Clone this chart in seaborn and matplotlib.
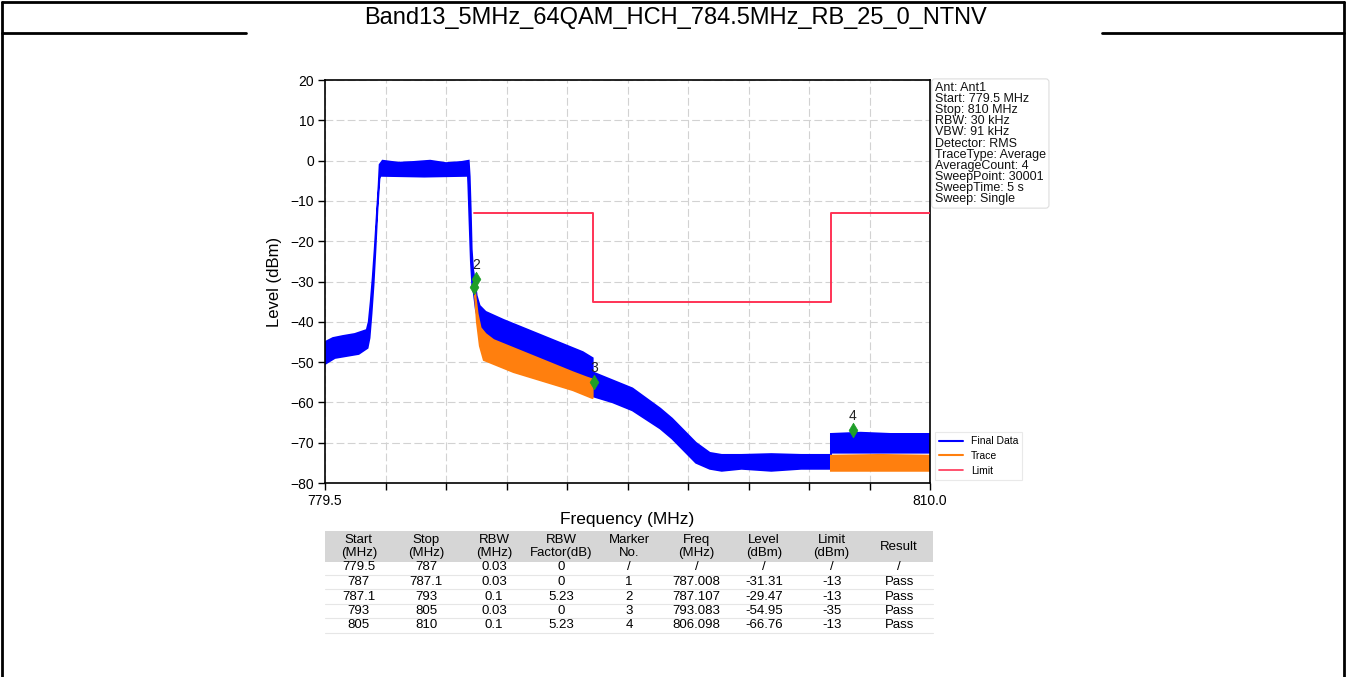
import numpy as np
import matplotlib
matplotlib.use("Agg")
import matplotlib.pyplot as plt
from matplotlib.lines import Line2D
from matplotlib.patches import Rectangle
import seaborn as sns

# ---------------------------------------------------------------- data
title = "Band13_5MHz_64QAM_HCH_784.5MHz_RB_25_0_NTNV"
f_start, f_stop = 779.5, 810.0
level_min, level_max = -80, 20

# Final Data sweep: upper / lower edges of the noisy band (MHz, dBm)
final_upper_f = [779.5, 779.9, 780.4, 781.0, 781.6, 781.7, 781.8, 781.9, 782.0,
                 782.1, 782.2, 782.25, 782.4, 783.2, 784.0, 784.8, 785.6, 786.4,
                 786.75, 786.8, 786.85, 786.9, 786.97, 787.05, 787.15, 787.3,
                 787.6, 788.5, 789.5, 790.5, 791.5, 792.5, 793.0, 793.0, 794.0,
                 795.0, 796.4, 797.0, 797.6, 798.2, 798.9, 799.5, 800.5, 802.0,
                 803.5, 805.0, 805.0, 806.5, 808.0, 810.0]
final_upper_db = [-45.0, -44.0, -43.5, -43.0, -42.0, -40.0, -35.0, -29.0, -22.0,
                  -14.0, -6.0, -1.0, 0.0, -0.5, -0.3, 0.0, -0.6, -0.3,
                  0.0, -4.0, -12.0, -22.0, -27.0, -29.5, -33.5, -36.0,
                  -37.5, -39.5, -41.5, -43.5, -45.5, -47.5, -49.0, -52.5, -54.5,
                  -56.5, -61.5, -64.0, -67.0, -70.0, -72.5, -73.0, -73.0, -72.8,
                  -73.0, -73.0, -67.8, -67.5, -67.8, -67.8]
final_lower_f = [779.5, 780.0, 780.6, 781.2, 781.65, 781.75, 781.85, 781.95,
                 782.05, 782.15, 782.25, 782.3, 784.5, 786.7, 786.72, 786.78,
                 786.85, 786.92, 787.0, 787.1, 787.3, 787.6, 788.5, 790.0,
                 791.5, 793.0, 793.0, 794.0, 795.0, 796.4, 797.0, 797.6, 798.2,
                 798.9, 799.5, 800.5, 802.0, 803.5, 805.0, 805.0, 807.5, 810.0]
final_lower_db = [-50.5, -49.0, -48.5, -48.0, -46.5, -44.0, -38.0, -31.0,
                  -22.0, -12.0, -4.5, -3.8, -4.0, -3.8, -6.0, -15.0,
                  -25.0, -31.0, -33.0, -37.0, -41.0, -44.0, -46.5, -49.0,
                  -52.0, -55.0, -58.5, -60.0, -62.0, -66.5, -69.0, -72.0, -75.0,
                  -76.5, -77.0, -76.5, -77.0, -76.5, -76.5, -72.5, -72.5, -72.5]

# Trace sweep where an RBW factor applies (787.1-793 and 805-810 MHz)
trace_a_upper_f = [787.05, 787.1, 787.2, 787.35, 787.6, 788.0, 789.0, 790.0,
                   791.0, 792.0, 792.7, 793.0]
trace_a_upper_db = [-31.0, -34.0, -38.0, -41.5, -43.0, -44.5, -46.5, -48.5,
                    -50.5, -52.5, -53.8, -54.3]
trace_a_lower_f = [787.05, 787.15, 787.3, 787.5, 788.0, 789.0, 790.0, 791.0,
                   792.0, 793.0]
trace_a_lower_db = [-33.0, -40.0, -46.0, -49.5, -50.5, -52.5, -54.0, -55.5,
                    -57.0, -59.0]
trace_b_upper_f = [805.0, 807.5, 810.0]
trace_b_upper_db = [-73.2, -73.0, -73.2]
trace_b_lower_f = [805.0, 807.5, 810.0]
trace_b_lower_db = [-77.0, -77.0, -77.0]

# Result table
start_mhz = ["779.5", "787", "787.1", "793", "805"]
stop_mhz = ["787", "787.1", "793", "805", "810"]
rbw_mhz = ["0.03", "0.03", "0.1", "0.03", "0.1"]
rbw_factor_db = ["0", "0", "5.23", "0", "5.23"]
marker_no = ["/", "1", "2", "3", "4"]
marker_freq = ["/", "787.008", "787.107", "793.083", "806.098"]
marker_level = ["/", "-31.31", "-29.47", "-54.95", "-66.76"]
limit_dbm = ["/", "-13", "-13", "-35", "-13"]
result = ["/", "Pass", "Pass", "Pass", "Pass"]

table_headers = ["Start\n(MHz)", "Stop\n(MHz)", "RBW\n(MHz)", "RBW\nFactor(dB)",
                 "Marker\nNo.", "Freq\n(MHz)", "Level\n(dBm)", "Limit\n(dBm)",
                 "Result"]

info_lines = ["Ant: Ant1", "Start: 779.5 MHz", "Stop: 810 MHz", "RBW: 30 kHz",
              "VBW: 91 kHz", "Detector: RMS", "TraceType: Average",
              "AverageCount: 4", "SweepPoint: 30001", "SweepTime: 5 s",
              "Sweep: Single"]

# ---------------------------------------------------------------- style
sns.set_theme(style="ticks")
plt.rcParams["font.family"] = ["Liberation Sans", "DejaVu Sans"]
plt.rcParams["axes.unicode_minus"] = True
for key in ("text.color", "axes.labelcolor", "xtick.color", "ytick.color",
            "axes.edgecolor"):
    plt.rcParams[key] = "black"

W, H = 1346, 677
fig = plt.figure(figsize=(W / 100, H / 100), dpi=100)
fig.patch.set_facecolor("white")


def fx(px):
    return px / W


def fy(py):
    return 1 - py / H


BLUE = "#0000ff"
ORANGE = "#ff7f0e"
RED = "#ff3355"
GREEN = "#1e9e28"

# ---------------------------------------------------------------- page frame and title
frame_kw = dict(color="black", lw=2.0, transform=fig.transFigure)
fig.add_artist(Line2D([fx(2), fx(1344)], [fy(2), fy(2)], **frame_kw))
fig.add_artist(Line2D([fx(2), fx(2)], [fy(2), fy(677)], **frame_kw))
fig.add_artist(Line2D([fx(1344), fx(1344)], [fy(2), fy(677)], **frame_kw))
fig.add_artist(Line2D([fx(2), fx(246)], [fy(33), fy(33)], **frame_kw))
fig.add_artist(Line2D([fx(1102), fx(1344)], [fy(33), fy(33)], **frame_kw))
fig.text(fx(675), fy(18), title, ha="center", va="center", fontsize=17)

# ---------------------------------------------------------------- spectrum axes
ax = fig.add_axes([fx(325), fy(483), fx(930) - fx(325), fy(80) - fy(483)])
ax.set_facecolor("white")


def band(axis, uf, ud, lf, ld, color, label, z):
    xs = np.concatenate([uf, lf[::-1]])
    ys = np.concatenate([ud, ld[::-1]])
    return axis.fill(xs, ys, color=color, edgecolor=color, lw=1.2,
                     zorder=z, label=label)


band(ax, final_upper_f, final_upper_db, final_lower_f, final_lower_db,
     BLUE, "Final Data", 2)
band(ax, trace_a_upper_f, trace_a_upper_db, trace_a_lower_f, trace_a_lower_db,
     ORANGE, "Trace", 2.2)
band(ax, trace_b_upper_f, trace_b_upper_db, trace_b_lower_f, trace_b_lower_db,
     ORANGE, None, 2.2)

# Limit mask built from the table segments that carry a limit
lim_x, lim_y = [], []
for s, e, lv in zip(start_mhz, stop_mhz, limit_dbm):
    if lv == "/":
        continue
    lim_x += [float(s), float(e)]
    lim_y += [float(lv), float(lv)]
sns.lineplot(x=lim_x, y=lim_y, sort=False, estimator=None, color=RED, lw=1.4,
             ax=ax, zorder=3)

# Markers (marker 1 sits under marker 2, only its diamond shows)
mk_no = [int(n) for n in marker_no if n != "/"]
mk_f = [float(v) for v in marker_freq if v != "/"]
mk_l = [float(v) for v in marker_level if v != "/"]
sns.scatterplot(x=mk_f, y=mk_l, marker="d", s=55, color=GREEN, edgecolor=GREEN,
                linewidth=0.5, ax=ax, zorder=4)
for n, f, lv in zip(mk_no, mk_f, mk_l):
    if n == 1:
        continue
    ax.annotate(str(n), (f, lv), xytext=(0, 5), textcoords="offset points",
                ha="center", va="bottom", fontsize=10, color="#222222",
                zorder=5)

ax.set_xlim(f_start, f_stop)
ax.set_ylim(level_min, level_max)
xt = np.linspace(f_start, f_stop, 11)
ax.set_xticks(xt)
ax.set_xticklabels([f"{f_start:.1f}"] + [""] * 9 + [f"{f_stop:.1f}"])
ax.set_yticks(np.arange(level_min, level_max + 1, 10))
ax.tick_params(axis="both", labelsize=10, length=5, width=1.0, color="black",
               direction="out", pad=3)
ax.grid(True, color="#d2d2d2", lw=0.8, ls=(0, (7, 3)))
ax.set_axisbelow(True)
for sp in ax.spines.values():
    sp.set_visible(True)
    sp.set_color("black")
    sp.set_linewidth(1.2)
ax.set_xlabel("Frequency (MHz)", fontsize=12.5, labelpad=3)
ax.set_ylabel("Level (dBm)", fontsize=12, labelpad=6)

# Legend (Final Data, Trace, Limit)
handles = [Line2D([], [], color=BLUE, lw=1.5),
           Line2D([], [], color=ORANGE, lw=1.5),
           Line2D([], [], color=RED, lw=1.2)]
leg = ax.legend(handles, ["Final Data", "Trace", "Limit"], loc="lower left",
                bbox_to_anchor=(1.0, -0.005), fontsize=7.5, frameon=True,
                handlelength=2.3, handletextpad=0.7, labelspacing=0.45,
                borderpad=0.4, fancybox=False)
leg.get_frame().set_edgecolor("#e4e4e4")
leg.get_frame().set_linewidth(0.8)

# Measurement settings box
ax.text(1.008, 0.995, "\n".join(info_lines), transform=ax.transAxes,
        ha="left", va="top", fontsize=9, linespacing=0.9, color="#111111",
        bbox=dict(boxstyle="round,pad=0.25", fc="white", ec="#dddddd", lw=0.8))

# ---------------------------------------------------------------- result table
tbl_left, tbl_right = 325, 933
col_w = (tbl_right - tbl_left) / len(table_headers)
fig.add_artist(Rectangle((fx(tbl_left), fy(562)), fx(tbl_right) - fx(tbl_left),
                         fy(531) - fy(562), transform=fig.transFigure,
                         facecolor="#d6d6d6", edgecolor="none", zorder=0))
for j, hd in enumerate(table_headers):
    cx = tbl_left + col_w * (j + 0.5)
    fig.text(fx(cx), fy(546.5), hd, ha="center", va="center", fontsize=9.5,
             linespacing=1.1)

columns = [start_mhz, stop_mhz, rbw_mhz, rbw_factor_db, marker_no,
           marker_freq, marker_level, limit_dbm, result]
row_y = [567.5, 582, 596.5, 611, 625.5]
for i, ry in enumerate(row_y):
    for j, col in enumerate(columns):
        cx = tbl_left + col_w * (j + 0.5)
        fig.text(fx(cx), fy(ry), col[i], ha="center", va="center",
                 fontsize=9.5)
    fig.add_artist(Line2D([fx(tbl_left), fx(tbl_right)],
                          [fy(ry + 7.2), fy(ry + 7.2)], color="#e6e6e6",
                          lw=0.8, transform=fig.transFigure, zorder=0))

fig.savefig("out.png", dpi=100, facecolor="white")
